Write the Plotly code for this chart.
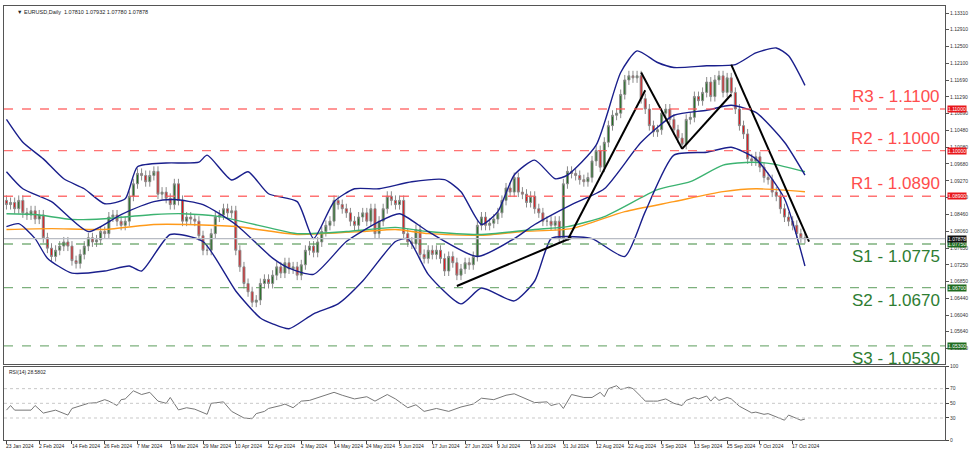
import plotly.graph_objects as go

closes = [
1.0870,1.0875,1.0860,1.0880,1.0850,1.0845,1.0855,1.0835,1.0845,1.0790,
1.0765,1.0745,1.0760,1.0770,1.0780,1.0770,1.0735,1.0728,1.0750,1.0770,
1.0790,1.0780,1.0785,1.0805,1.0800,1.0840,1.0845,1.0830,1.0820,1.0830,
1.0890,1.0920,1.0945,1.0940,1.0925,1.0940,1.0950,1.0895,1.0900,1.0885,
1.0870,1.0920,1.0880,1.0830,1.0840,1.0835,1.0830,1.0795,1.0760,1.0760,
1.0800,1.0840,1.0845,1.0860,1.0850,1.0855,1.0760,1.0720,1.0680,1.0660,
1.0635,1.0640,1.0680,1.0690,1.0680,1.0700,1.0720,1.0705,1.0730,1.0715,
1.0720,1.0700,1.0725,1.0760,1.0770,1.0755,1.0780,1.0805,1.0820,1.0830,
1.0880,1.0870,1.0860,1.0850,1.0830,1.0820,1.0840,1.0850,1.0830,1.0860,
1.0800,1.0830,1.0860,1.0890,1.0880,1.0870,1.0880,1.0800,1.0780,1.0775,
1.0810,1.0750,1.0740,1.0760,1.0750,1.0760,1.0740,1.0710,1.0745,1.0730,
1.0700,1.0715,1.0730,1.0725,1.0745,1.0820,1.0840,1.0820,1.0825,1.0835,
1.0850,1.0880,1.0910,1.0900,1.0935,1.0900,1.0895,1.0875,1.0890,1.0860,
1.0850,1.0830,1.0830,1.0820,1.0830,1.0790,1.0920,1.0950,1.0945,1.0940,
1.0930,1.0925,1.0935,1.0975,1.1000,1.0960,1.1020,1.1060,1.1085,1.1090,
1.1135,1.1170,1.1180,1.1175,1.1180,1.1125,1.1100,1.1060,1.1045,1.1050,
1.1090,1.1100,1.1075,1.1050,1.1030,1.1015,1.1075,1.1080,1.1130,1.1120,
1.1140,1.1165,1.1130,1.1170,1.1180,1.1140,1.1175,1.1140,1.1100,1.1060,
1.1040,1.0980,1.0975,1.0985,1.0960,1.0935,1.0930,1.0900,1.0890,1.0860,
1.0840,1.0830,1.0820,1.0800,1.0790,1.0788]
first_open = 1.0880
wick = 0.0012

bb_upper = [(0,1.1075),(4,1.1020),(9,1.0980),(14,1.0932),(19,1.0908),(24,1.0872),(29,1.0884),(32,1.0961),(39,1.0970),(47,1.0972),(49,1.0989),(55,1.0929),(59,1.0949),(64,1.0896),(71,1.0877),(75,1.0788),(80,1.0877),(85,1.0908),(91,1.0908),(99,1.0925),(107,1.0930),(111,1.0901),(116,1.0822),(120,1.0853),(124,1.0941),(129,1.0977),(134,1.0932),(137,1.0941),(144,1.1013),(150,1.1188),(154,1.1240),(159,1.1212),(163,1.1200),(171,1.1204),(178,1.1207),(183,1.1235),(188,1.1247),(191,1.1228),(195,1.1157)]
bb_mid = [(0,1.0949),(4,1.0908),(11,1.0877),(20,1.0805),(28,1.0846),(36,1.0877),(41,1.0882),(48,1.0870),(56,1.0822),(65,1.0741),(69,1.0717),(75,1.0702),(83,1.0781),(91,1.0829),(96,1.0848),(103,1.0805),(115,1.0745),(124,1.0788),(129,1.0822),(138,1.0870),(146,1.0908),(155,1.1020),(163,1.1085),(171,1.1097),(177,1.1109),(183,1.1092),(190,1.1020),(195,1.0941)]
bb_lower = [(0,1.0817),(3,1.0824),(7,1.0788),(10,1.0741),(16,1.0705),(24,1.0710),(30,1.0722),(33,1.0710),(40,1.0798),(48,1.0781),(56,1.0662),(62,1.0597),(65,1.0583),(69,1.0571),(75,1.0607),(81,1.0631),(87,1.0686),(95,1.0781),(98,1.0788),(103,1.0702),(111,1.0631),(116,1.0669),(124,1.0638),(129,1.0686),(133,1.0788),(137,1.0793),(143,1.0788),(151,1.0745),(156,1.0853),(163,1.0989),(171,1.0996),(177,1.1008),(183,1.0980),(190,1.0884),(195,1.0722)]
ma_green = [(0,1.0848),(7,1.0846),(16,1.0834),(24,1.0836),(36,1.0846),(43,1.0848),(52,1.0841),(65,1.0812),(71,1.0800),(83,1.0805),(95,1.0815),(103,1.0805),(116,1.0798),(129,1.0810),(137,1.0817),(146,1.0841),(159,1.0906),(167,1.0925),(175,1.0965),(182,1.0972),(187,1.0968),(195,1.0949)]
ma_orange = [(0,1.0810),(11,1.0812),(24,1.0810),(36,1.0822),(44,1.0822),(56,1.0817),(65,1.0805),(71,1.0798),(87,1.0805),(95,1.0810),(103,1.0800),(116,1.0796),(126,1.0805),(138,1.0812),(151,1.0853),(163,1.0877),(175,1.0901),(183,1.0908),(195,1.0901)]
trend_lines = [[(110,1.0674),(138,1.0790)],[(137,1.0784),(156,1.1145)],[(155,1.1188),(165,1.1004)],[(165,1.1004),(177,1.1135)],[(177,1.1207),(196,1.0781)]]

rsi_points = [(0,40.7),(1,47),(2,40.7),(6,40.7),(7,47),(9,36.7),(12,40.7),(15,34),(16,43),(20,50),(22,51),(24,55),(25,53),(27,47),(28,55),(29,56),(31,67),(33,62),(35,65),(37,53),(39,50),(40,58),(42,41),(44,44),(46,42),(49,35),(50,50),(53,52),(55,39),(58,30),(60,29),(61,36),(63,39),(64,43),(67,47),(68,49),(70,44),(72,53),(74,54),(77,60),(80,65),(82,61),(85,56),(88,59),(90,53),(93,62),(95,56),(98,44),(100,48),(102,39),(105,43),(108,39),(111,45),(114,49),(116,57),(119,55),(122,61),(124,63),(127,56),(129,51),(132,52),(133,47),(135,50),(136,43),(138,62),(141,58),(143,58),(145,65),(146,59),(147,70),(149,74),(150,69),(152,72),(153,70),(155,59),(156,53),(158,53),(159,53),(161,56),(163,50),(165,47),(166,54),(168,58),(169,56),(171,60),(172,53),(173,59),(174,54),(176,58),(177,56),(179,46),(180,43),(182,37),(183,38),(185,35),(186,36),(188,32),(190,27),(191,34),(193,29),(194,27),(195,28.6)]

date_labels = ["23 Jan 2024","2 Feb 2024","14 Feb 2024","26 Feb 2024","7 Mar 2024","19 Mar 2024","29 Mar 2024","10 Apr 2024","22 Apr 2024","2 May 2024","14 May 2024","24 May 2024","5 Jun 2024","17 Jun 2024","27 Jun 2024","9 Jul 2024","19 Jul 2024","31 Jul 2024","12 Aug 2024","22 Aug 2024","3 Sep 2024","13 Sep 2024","25 Sep 2024","7 Oct 2024","17 Oct 2024"]
price_ticks = [1.13310,1.12910,1.12500,1.12100,1.11690,1.11290,1.10890,1.10480,1.10080,1.09680,1.09270,1.08870,1.08460,1.08060,1.07650,1.07250,1.06850,1.06440,1.06040,1.05640,1.05230,1.04830]
levels = [("R3 - 1.1100",1.1100,"red"),("R2 - 1.1000",1.1000,"red"),("R1 - 1.0890",1.0890,"red"),
          ("S1 - 1.0775",1.0775,"green"),("S2 - 1.0670",1.0670,"green"),("S3 - 1.0530",1.0530,"green")]
last_price = 1.07878

idx = list(range(len(closes)))
opens = [first_open] + closes[:-1]
highs = [max(o, c) + wick for o, c in zip(opens, closes)]
lows = [min(o, c) - wick for o, c in zip(opens, closes)]

fig = go.Figure()
RED = "#ff4d4d"; GRN = "#2e7d32"
for name, lv, col in levels:
    c = "rgba(255,90,90,0.85)" if col == "red" else "rgba(80,150,80,0.75)"
    fig.add_shape(type="line", xref="paper", x0=0, x1=1, yref="y", y0=lv, y1=lv,
                  line=dict(color=c, width=1.3, dash="dash"))
fig.add_shape(type="line", xref="paper", x0=0, x1=1, yref="y", y0=last_price, y1=last_price,
              line=dict(color="#b8bcc4", width=1.2))

def line(pts, color, w=1.4):
    fig.add_trace(go.Scatter(x=[p[0] for p in pts], y=[p[1] for p in pts], mode="lines",
                             line=dict(color=color, width=w, shape="spline", smoothing=0.6),
                             hoverinfo="skip", showlegend=False, xaxis="x", yaxis="y"))

line(ma_orange, "#ff9a1a"); line(ma_green, "#3cb371")
fig.add_trace(go.Candlestick(x=idx, open=opens, high=highs, low=lows, close=closes,
    increasing=dict(fillcolor="#1f6e1f", line=dict(color="#8a8a8a", width=1)),
    decreasing=dict(fillcolor="#e3161b", line=dict(color="#8a8a8a", width=1)),
    whiskerwidth=0, showlegend=False, xaxis="x", yaxis="y"))
line(bb_upper, "#1a1f8c"); line(bb_mid, "#1a1f8c"); line(bb_lower, "#1a1f8c")
for seg in trend_lines:
    fig.add_trace(go.Scatter(x=[p[0] for p in seg], y=[p[1] for p in seg], mode="lines",
                             line=dict(color="black", width=2), showlegend=False, hoverinfo="skip"))

fig.add_trace(go.Scatter(x=[p[0] for p in rsi_points], y=[p[1] for p in rsi_points], mode="lines",
                         line=dict(color="#777", width=1), showlegend=False, xaxis="x2", yaxis="y2"))
for v in (70, 50, 30):
    fig.add_shape(type="line", xref="x2 domain", x0=0, x1=1, yref="y2", y0=v, y1=v,
                  line=dict(color="#c8c8c8", width=1, dash="dot"))

ann = []
for name, lv, col in levels:
    red = col == "red"
    ann.append(dict(x=0.997, xref="paper", y=lv, yref="y", text=name, showarrow=False,
                    xanchor="right", yanchor="bottom" if red else "top",
                    yshift=1 if red else -1,
                    font=dict(size=17, color=RED if red else GRN, family="Liberation Sans")))
    ann.append(dict(x=1.0, xref="paper", y=lv, yref="y", text=f"{lv:.5f}", showarrow=False,
                    xanchor="left", xshift=2, bgcolor="#e8161b" if red else "#1e6b1e",
                    font=dict(size=5, color="white"), borderpad=0))
ann.append(dict(x=1.0, xref="paper", y=last_price, yref="y", text=f"{last_price:.5f}", showarrow=False,
                xanchor="left", xshift=2, bgcolor="#111", font=dict(size=5, color="white"), borderpad=0))
for i, lab in enumerate(date_labels):
    ann.append(dict(x=i * 8 - 0.6, xref="x2", y=0, yref="paper", yanchor="top", yshift=-1, xanchor="left",
                    text=lab, showarrow=False, font=dict(size=5, color="#222", family="Liberation Sans")))
ann.append(dict(x=0.012, xref="paper", y=1, yref="paper", yanchor="top", xanchor="left", yshift=-1,
                text="▼ EURUSD,Daily  1.07810 1.07932 1.07780 1.07878", showarrow=False,
                font=dict(size=5.5, color="#222", family="Liberation Sans")))
ann.append(dict(x=0.003, xref="paper", y=0.169, yref="paper", yanchor="top", xanchor="left",
                text="RSI(14) 28.5802", showarrow=False, font=dict(size=5, color="#222")))

xr = [-0.6, 229.2]
fig.update_layout(
    width=975, height=452, margin=dict(l=3, r=30, t=3, b=12),
    paper_bgcolor="white", plot_bgcolor="white", annotations=ann,
    font=dict(family="Liberation Sans"),
    xaxis=dict(range=xr, domain=[0, 1], anchor="y", showticklabels=False, showgrid=False,
               zeroline=False, rangeslider=dict(visible=False), showline=True, mirror=True,
               linecolor="#555", linewidth=1),
    yaxis=dict(range=[1.0485, 1.1348], domain=[0.174, 1], side="right", showgrid=False,
               tickvals=price_ticks, ticktext=[f"{v:.5f}" for v in price_ticks],
               tickfont=dict(size=5, color="#333"), ticks="outside", ticklen=3, tickcolor="#555",
               showline=True, mirror=True, linecolor="#555", linewidth=1, zeroline=False),
    xaxis2=dict(range=xr, domain=[0, 1], anchor="y2", showticklabels=False, showgrid=False,
                zeroline=False, showline=True, mirror=True, linecolor="#555", linewidth=1,
                tickvals=[i * 8 for i in range(len(date_labels))], ticks="outside", ticklen=3),
    yaxis2=dict(range=[0, 100], domain=[0, 0.169], side="right", showgrid=False, zeroline=False,
                tickvals=[0, 30, 50, 70, 100], tickfont=dict(size=5, color="#333"),
                ticks="outside", ticklen=3, showline=True, mirror=True, linecolor="#555", linewidth=1),
)
fig.write_html("out.html", config={"displayModeBar": False})
with open("out.html", encoding="utf-8") as f:
    html = f.read()
html = html.replace("<body>", '<body style="margin:0;overflow:hidden">', 1)
with open("out.html", "w", encoding="utf-8") as f:
    f.write(html)
